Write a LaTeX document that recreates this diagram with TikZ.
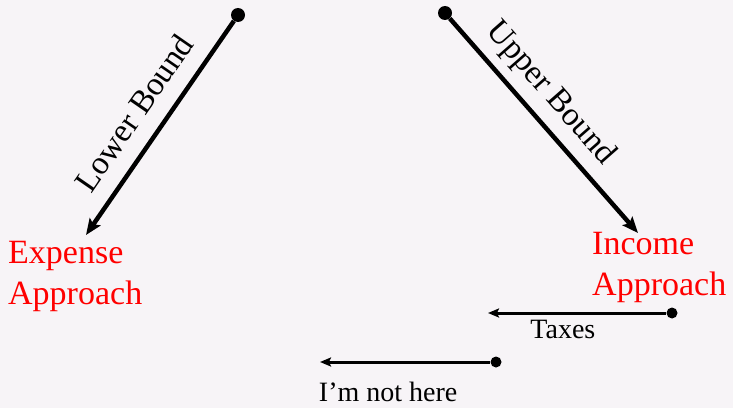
\documentclass[tikz,border=0pt]{standalone}
\usepackage{fontspec}
\setmainfont{Liberation Serif}
\usetikzlibrary{arrows.meta,positioning}
\definecolor{paper}{HTML}{F7F4F7}
\tikzset{
  bigdot/.style={circle, fill=black, inner sep=0pt, minimum size=14pt},
  smalldot/.style={circle, fill=black, inner sep=0pt, minimum size=11pt},
  bound/.style={line width=4.5pt, -{Stealth[length=16pt,width=13pt,inset=3pt]}},
  flow/.style={line width=3pt, -{Stealth[length=11pt,width=9pt,inset=2pt]}},
  approach/.style={text=red, align=left, inner sep=0pt, font=\fontsize{34}{41}\selectfont},
  lbl/.style={inner sep=0pt, font=\fontsize{28}{32}\selectfont},
  boundlbl/.style={inner sep=0pt, font=\fontsize{33}{38}\selectfont},
}
\begin{document}
\begin{tikzpicture}[x=1pt, y=1pt]
  \fill[paper] (0,0) rectangle (733,408);
  \useasboundingbox (0,0) rectangle (733,408);
  \node[bigdot] (lodot) at (238,393) {};
  \node[bigdot] (updot) at (445,395) {};
  \coordinate (exptip) at (86,173);
  \coordinate (inctip) at (638,175);
  \node[approach, anchor=north west] (expense) at (8,167) {Expense\\Approach};
  \node[approach, anchor=north west] (income) at (592,176) {Income\\Approach};
  \draw[bound] (lodot) -- node[boundlbl, sloped, above=16pt, pos=0.51]{Lower Bound} (exptip);
  \draw[bound] (updot) -- node[boundlbl, sloped, above=9pt, pos=0.43]{Upper Bound} (inctip);
  \node[smalldot] (taxdot) at (672,95) {};
  \coordinate (taxtip) at (488,95);
  \draw[flow] (taxdot) -- node[lbl, below=6pt, pos=0.58]{Taxes} (taxtip);
  \node[smalldot] (herdot) at (496,46) {};
  \coordinate (hertip) at (320,46);
  \draw[flow] (herdot) -- node[lbl, below=19pt, pos=0.60]{I’m not here} (hertip);
\end{tikzpicture}
\end{document}
